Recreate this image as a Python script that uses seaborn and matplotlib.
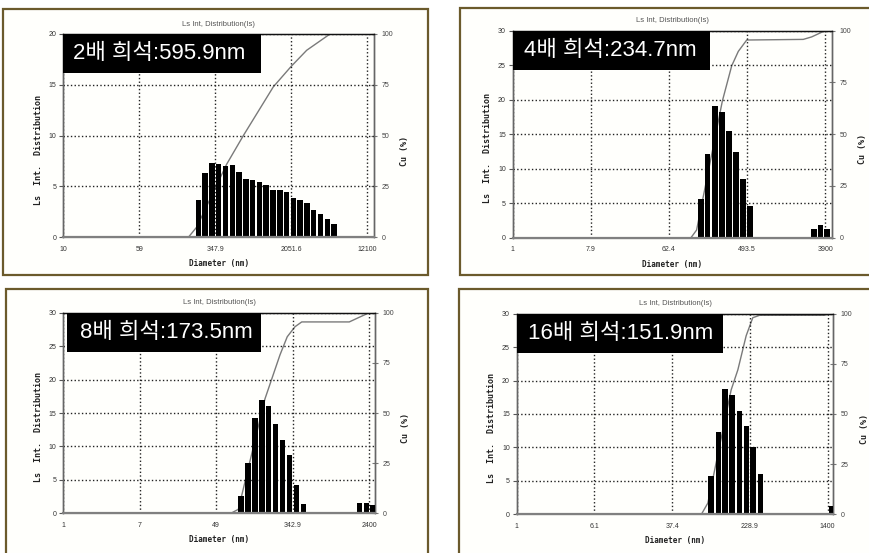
import matplotlib
matplotlib.use('Agg')
import numpy as np
import matplotlib.pyplot as plt
import seaborn as sns
from matplotlib.patches import Rectangle

sns.set_style('white')
plt.rcParams['font.family'] = ['Liberation Sans', 'Noto Sans CJK KR', 'DejaVu Sans']

W, H = 870, 553

# box labels
labels = ['2배 희석:595.9nm', '4배 희석:234.7nm', '8배 희석:173.5nm', '16배 희석:151.9nm']

# x ticks (diameter, nm)
xticks_1 = [10, 59, 347.9, 2051.6, 12100]
xticks_2 = [1, 7.9, 62.4, 493.5, 3900]
xticks_3 = [1, 7, 49, 342.9, 2400]
xticks_4 = [1, 6.1, 37.4, 228.9, 1400]

# intensity distribution: bin diameters (nm) and heights
diam_1 = [235, 275, 323, 378, 443, 519, 609, 713, 836, 980, 1148,
          1346, 1577, 1849, 2167, 2539, 2976, 3488, 4088, 4791, 5615]
dist_1 = [3.7, 6.3, 7.3, 7.2, 7.0, 7.1, 6.4, 5.7, 5.6, 5.4, 5.1,
          4.7, 4.7, 4.5, 3.9, 3.7, 3.4, 2.7, 2.3, 1.8, 1.3]

diam_2 = [145, 174, 210, 253, 305, 367, 442, 532, 2900, 3440, 4080]
dist_2 = [5.6, 12.1, 19.1, 18.2, 15.4, 12.4, 8.5, 4.6, 1.3, 1.8, 1.2]

diam_3 = [92, 110, 131, 156, 186, 222, 265, 316, 376, 449, 1884, 2230, 2596]
dist_3 = [2.6, 7.5, 14.2, 16.9, 16.0, 13.3, 11.0, 8.7, 4.2, 1.4, 1.6, 1.6, 1.3]

diam_4 = [93, 110, 129, 152, 179, 211, 248, 292, 1537]
dist_4 = [5.7, 12.3, 18.8, 17.8, 15.5, 13.2, 10.1, 6.0, 1.2]

# cumulative curve (Cu %)
cum_d_1 = [186, 226, 456, 672, 1355, 2051, 2958, 5100]
cum_q_1 = [0, 5, 36, 50, 74, 84, 92, 100]
cum_d_2 = [112, 130, 257, 329, 392, 490, 2188, 2733, 3890]
cum_q_2 = [0, 3.7, 66, 83, 90, 95.5, 95.8, 97, 100]
cum_d_3 = [71, 86, 169, 248, 298, 363, 431, 1445, 1818, 2404, 2780]
cum_q_3 = [0, 2, 57, 79, 88, 93, 95.4, 95.4, 97.5, 100, 100]
cum_d_4 = [74, 86, 148, 173, 210, 245, 287, 1300, 1462]
cum_q_4 = [0, 5.6, 62, 72, 89, 98, 99.2, 99.2, 100]

panels = [
    dict(d=diam_1, v=dist_1, cd=cum_d_1, cq=cum_q_1, xt=xticks_1, ymax=20,
         rect=(63.3, 34, 374, 237.3), xlim=(10, 14260), step=0.069,
         frame=(3, 9, 428, 275), box=(0.0, 0.635, 0.19), tx=0.031),
    dict(d=diam_2, v=dist_2, cd=cum_d_2, cq=cum_q_2, xt=xticks_2, ymax=30,
         rect=(512.7, 30.7, 831.7, 237.7), xlim=(1, 4645), step=0.0805,
         frame=(460, 8, 872, 275), box=(0.002, 0.616, 0.188), tx=0.032),
    dict(d=diam_3, v=dist_3, cd=cum_d_3, cq=cum_q_3, xt=xticks_3, ymax=30,
         rect=(63.3, 312.7, 375, 513.3), xlim=(1, 2780), step=0.0762,
         frame=(6, 289, 428, 556), box=(0.011, 0.622, 0.196), tx=0.041),
    dict(d=diam_4, v=dist_4, cd=cum_d_4, cq=cum_q_4, xt=xticks_4, ymax=30,
         rect=(516.7, 313.7, 833.3, 514.3), xlim=(1, 1600), step=0.0708,
         frame=(459, 289, 872, 556), box=(0.0, 0.653, 0.196), tx=0.035),
]

fig = plt.figure(figsize=(W / 100, H / 100), dpi=100)
fig.patch.set_facecolor('white')

mono = 'DejaVu Sans Mono'
px = 0.72  # points per pixel

for i, p in enumerate(panels):
    # outer frame
    x0, y0, x1, y1 = p['frame']
    fig.add_artist(Rectangle((x0 / W, 1 - y1 / H), (x1 - x0) / W, (y1 - y0) / H,
                             transform=fig.transFigure, facecolor='#fffffc',
                             edgecolor='#6b5a2c', lw=1.6, zorder=0))

    l, t, r, b = p['rect']
    ax = fig.add_axes([l / W, 1 - b / H, (r - l) / W, (b - t) / H])
    ax.set_xscale('log')
    ax2 = ax.twinx()

    # cumulative curve on right axis
    sns.lineplot(x=p['cd'], y=p['cq'], ax=ax2, color='#7a7a7a', lw=1.0,
                 sort=False, estimator=None)
    ax2.set_ylim(0, 100)
    ax2.set_yticks([0, 25, 50, 75, 100])
    ax2.set_yticklabels(['0', '25', '50', '75', '100'])
    ax2.tick_params(axis='y', direction='inout', length=5, width=0.8,
                    color='#777777', labelsize=5, labelcolor='#444444', pad=3)
    ax2.set_ylabel('')

    # histogram bars
    d = np.array(p['d'], dtype=float)
    half = 10 ** (0.4 * p['step'])
    ax.bar(d / half, p['v'], width=d * half - d / half, align='edge',
           color='black', edgecolor='none', zorder=3)

    ax.set_zorder(ax2.get_zorder() + 1)
    ax.patch.set_visible(False)

    ax.set_xlim(*p['xlim'])
    ax2.set_xlim(*p['xlim'])
    ax.set_ylim(0, p['ymax'])
    ax.set_yticks(range(0, p['ymax'] + 1, 5))
    ax.set_xticks(p['xt'])
    ax.set_xticklabels([f'{v:g}' for v in p['xt']])
    ax.minorticks_off()
    ax2.minorticks_off()

    ax.grid(True, ls=':', color='#222222', lw=1.0, zorder=1)
    ax.tick_params(axis='y', direction='out', length=3, width=0.8,
                   color='#555555', labelsize=5, labelcolor='#333333', pad=2)
    ax.tick_params(axis='x', direction='inout', length=6, width=0.8,
                   color='#555555', labelsize=5, labelcolor='#333333', pad=3)

    for s in ['left', 'right']:
        ax.spines[s].set_color('#666666')
        ax.spines[s].set_linewidth(1.0)
        ax2.spines[s].set_color('#666666')
        ax2.spines[s].set_linewidth(1.0)
    ax.spines['top'].set_color('#111111')
    ax.spines['top'].set_linewidth(1.0)
    ax.spines['bottom'].set_color('#808080')
    ax.spines['bottom'].set_linewidth(1.6)
    ax.spines['bottom'].set_zorder(4)

    # titles and axis labels
    ax.set_title('Ls Int, Distribution(Is)', fontsize=5.5, color='#555555', pad=6)
    ax.annotate('Diameter (nm)', (0.5, 0), xycoords='axes fraction',
                xytext=(0, -26.5 * px), textcoords='offset points',
                ha='center', va='center', fontsize=5.5, fontweight='bold',
                family=mono, color='#222222')
    ax.annotate('Ls  Int.  Distribution', (0, 0.5), xycoords='axes fraction',
                xytext=(-25 * px, -14 * px), textcoords='offset points',
                ha='center', va='center', rotation=90, fontsize=6,
                fontweight='bold', family=mono, color='#222222')
    ax.annotate('Cu (%)', (1, 0.5), xycoords='axes fraction',
                xytext=(31 * px, -15 * px), textcoords='offset points',
                ha='center', va='center', rotation=90, fontsize=6,
                fontweight='bold', family=mono, color='#222222',
                annotation_clip=False)

    # black label box
    bx, bw, bh = p['box']
    ax.add_patch(Rectangle((bx, 1.0 - bh), bw, bh, transform=ax.transAxes,
                           facecolor='black', edgecolor='none', zorder=10,
                           clip_on=False))
    ax.text(bx + p['tx'], 1.0 - bh / 2, labels[i], transform=ax.transAxes,
            color='white', fontsize=16, ha='left', va='center', zorder=11,
            family=['Liberation Sans', 'Noto Sans CJK KR'])

fig.savefig('out.png', dpi=100, facecolor='white')
